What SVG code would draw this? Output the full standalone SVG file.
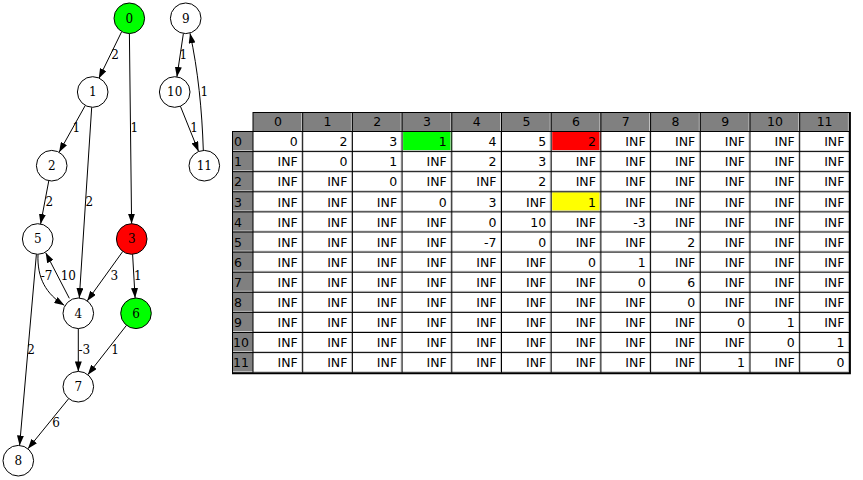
<svg xmlns="http://www.w3.org/2000/svg" width="863" height="480" viewBox="0 0 863 480">
<style>
.nd{stroke:#000;stroke-width:1;fill:#fff}
.nl{font-family:"DejaVu Serif","Liberation Serif",serif;font-size:12px;text-anchor:middle}
.el{font-family:"DejaVu Serif","Liberation Serif",serif;font-size:12px;text-anchor:middle}
.e{stroke:#000;stroke-width:1;fill:none;marker-end:url(#ah)}
.t{font-family:"DejaVu Sans","Liberation Sans",sans-serif;font-size:12.5px;text-anchor:end}
.h{font-family:"DejaVu Sans","Liberation Sans",sans-serif;font-size:12.5px;text-anchor:middle}
.rh{font-family:"DejaVu Sans","Liberation Sans",sans-serif;font-size:12.5px;text-anchor:start}
.gl{stroke:#000;stroke-width:1}
.ll{stroke:#c8c8c8;stroke-width:1}
</style>
<defs>
<marker id="ah" markerUnits="userSpaceOnUse" markerWidth="10" markerHeight="7" refX="10" refY="3.5" orient="auto">
<path d="M0,0 L10,3.5 L0,7 z" fill="#000"/>
</marker>
</defs>
<rect width="863" height="480" fill="#fff"/>
<g id="edges">
<path class="e" d="M121.5,32 L98.8,78.5"/>
<text class="el" x="115" y="58.5">2</text>
<path class="e" d="M129.4,33.6 L131.6,223.7"/>
<text class="el" x="134.3" y="132">1</text>
<path class="e" d="M85.3,105.4 L59.1,152.3"/>
<text class="el" x="76.3" y="132">1</text>
<path class="e" d="M91.7,107.3 L79.3,298"/>
<text class="el" x="89.3" y="206">2</text>
<path class="e" d="M48.8,180.7 L40.6,224"/>
<text class="el" x="49.3" y="206">2</text>
<path class="e" d="M38,254.5 C37,278 46,294 64.3,305.3"/>
<text class="el" x="46.5" y="280">-7</text>
<path class="e" d="M69.3,298.3 L45.7,252.7"/>
<text class="el" x="68.3" y="280">10</text>
<path class="e" d="M122.8,251.4 L87.2,300.9"/>
<text class="el" x="114.3" y="280">3</text>
<path class="e" d="M132.6,254.3 L135.1,298"/>
<text class="el" x="137.7" y="280">1</text>
<path class="e" d="M36.4,254.2 L19.6,445.4"/>
<text class="el" x="31" y="353.5">2</text>
<path class="e" d="M78.3,328.6 L78.3,371.4"/>
<text class="el" x="84.3" y="353.5">-3</text>
<path class="e" d="M126.5,325.3 L87.8,374.7"/>
<text class="el" x="115" y="353.5">1</text>
<path class="e" d="M68.7,398.6 L27.9,448.8"/>
<text class="el" x="56" y="427">6</text>
<path class="e" d="M183.4,33.4 L176.9,76.9"/>
<text class="el" x="183.3" y="58.5">1</text>
<path class="e" d="M180.4,106.2 L198.6,151.5"/>
<text class="el" x="194" y="132">1</text>
<path class="e" d="M203.3,150 C202,110 198,70 190,33.3"/>
<text class="el" x="204.3" y="95.5">1</text>
</g>
<g id="node0"><circle class="nd" cx="129.3" cy="18.3" r="15.3" style="fill:#00ff00"/><text class="nl" x="129.3" y="22.6">0</text></g>
<g id="node9"><circle class="nd" cx="185.7" cy="18.3" r="15.3"/><text class="nl" x="185.7" y="22.6">9</text></g>
<g id="node1"><circle class="nd" cx="92.7" cy="92" r="15.3"/><text class="nl" x="92.7" y="96.3">1</text></g>
<g id="node10"><circle class="nd" cx="174.7" cy="92" r="15.3"/><text class="nl" x="174.7" y="96.3">10</text></g>
<g id="node2"><circle class="nd" cx="51.7" cy="165.7" r="15.3"/><text class="nl" x="51.7" y="170">2</text></g>
<g id="node11"><circle class="nd" cx="204.3" cy="165.7" r="15.3"/><text class="nl" x="204.3" y="170">11</text></g>
<g id="node5"><circle class="nd" cx="37.7" cy="239" r="15.3"/><text class="nl" x="37.7" y="243.3">5</text></g>
<g id="node3"><circle class="nd" cx="131.7" cy="239" r="15.3" style="fill:#ff0000"/><text class="nl" x="131.7" y="243.3">3</text></g>
<g id="node4"><circle class="nd" cx="78.3" cy="313.3" r="15.3"/><text class="nl" x="78.3" y="317.6">4</text></g>
<g id="node6"><circle class="nd" cx="136" cy="313.3" r="15.3" style="fill:#00ff00"/><text class="nl" x="136" y="317.6">6</text></g>
<g id="node7"><circle class="nd" cx="78.3" cy="386.7" r="15.3"/><text class="nl" x="78.3" y="391">7</text></g>
<g id="node8"><circle class="nd" cx="18.3" cy="460.7" r="15.3"/><text class="nl" x="18.3" y="465">8</text></g>
<g id="table">
<rect x="253" y="112" width="596.4" height="19.5" fill="#808080"/>
<rect x="232" y="131.5" width="21" height="241.2" fill="#808080"/>
<rect x="253" y="131.5" width="596.4" height="241.2" fill="#fff"/>
<rect x="403.1" y="132" width="48.7" height="19.1" fill="#00ff00"/>
<rect x="552.2" y="132" width="48.7" height="19.1" fill="#ff0000"/>
<rect x="552.2" y="192.3" width="48.7" height="19.1" fill="#ffff00"/>
<g class="ll">
<path d="M301.7,112 V372.7 M351.4,112 V372.7 M401.1,112 V372.7 M450.8,112 V372.7 M500.5,112 V372.7 M550.2,112 V372.7 M599.9,112 V372.7 M649.6,112 V372.7 M699.3,112 V372.7 M749,112 V372.7 M798.7,112 V372.7 M848.4,112 V372.7"/>
<path d="M232,150.6 H849.4 M232,170.7 H849.4 M232,190.8 H849.4 M232,210.9 H849.4 M232,231 H849.4 M232,251.1 H849.4 M232,271.2 H849.4 M232,291.3 H849.4 M232,311.4 H849.4 M232,331.5 H849.4 M232,351.6 H849.4 M232,371.7 H849.4"/>
</g>
<g class="gl">
<path d="M253,112 V372.7 M302.7,112 V372.7 M352.4,112 V372.7 M402.1,112 V372.7 M451.8,112 V372.7 M501.5,112 V372.7 M551.2,112 V372.7 M600.9,112 V372.7 M650.6,112 V372.7 M700.3,112 V372.7 M750,112 V372.7 M799.7,112 V372.7"/>
<path d="M232,131.5 H849.4 M232,151.6 H849.4 M232,171.7 H849.4 M232,191.8 H849.4 M232,211.9 H849.4 M232,232 H849.4 M232,252.1 H849.4 M232,272.2 H849.4 M232,292.3 H849.4 M232,312.4 H849.4 M232,332.5 H849.4 M232,352.6 H849.4"/>
<path d="M253,112.5 H850 M232.5,131.5 V373"/>
</g>
<path d="M849.9,112 V373.7 M232,373.2 H850.9" stroke="#000" stroke-width="2" fill="none"/>
<g class="h">
<text x="277.9" y="126.4">0</text><text x="327.6" y="126.4">1</text><text x="377.3" y="126.4">2</text><text x="427" y="126.4">3</text><text x="476.7" y="126.4">4</text><text x="526.4" y="126.4">5</text><text x="576.1" y="126.4">6</text><text x="625.8" y="126.4">7</text><text x="675.5" y="126.4">8</text><text x="725.2" y="126.4">9</text><text x="774.9" y="126.4">10</text><text x="824.6" y="126.4">11</text>
</g>
<g class="rh">
<text x="234" y="146.2">0</text><text x="234" y="166.3">1</text><text x="234" y="186.4">2</text><text x="234" y="206.5">3</text><text x="234" y="226.6">4</text><text x="234" y="246.7">5</text><text x="234" y="266.8">6</text><text x="234" y="286.9">7</text><text x="234" y="307">8</text><text x="234" y="327.1">9</text><text x="233" y="347.2">10</text><text x="233" y="367.3">11</text>
</g>
<g class="t">
<g transform="translate(0,146.2)"><text x="297.7">0</text><text x="347.4">2</text><text x="397.1">3</text><text x="446.8">1</text><text x="496.5">4</text><text x="546.2">5</text><text x="595.9">2</text><text x="645.6">INF</text><text x="695.3">INF</text><text x="745">INF</text><text x="794.7">INF</text><text x="844.4">INF</text></g>
<g transform="translate(0,166.3)"><text x="297.7">INF</text><text x="347.4">0</text><text x="397.1">1</text><text x="446.8">INF</text><text x="496.5">2</text><text x="546.2">3</text><text x="595.9">INF</text><text x="645.6">INF</text><text x="695.3">INF</text><text x="745">INF</text><text x="794.7">INF</text><text x="844.4">INF</text></g>
<g transform="translate(0,186.4)"><text x="297.7">INF</text><text x="347.4">INF</text><text x="397.1">0</text><text x="446.8">INF</text><text x="496.5">INF</text><text x="546.2">2</text><text x="595.9">INF</text><text x="645.6">INF</text><text x="695.3">INF</text><text x="745">INF</text><text x="794.7">INF</text><text x="844.4">INF</text></g>
<g transform="translate(0,206.5)"><text x="297.7">INF</text><text x="347.4">INF</text><text x="397.1">INF</text><text x="446.8">0</text><text x="496.5">3</text><text x="546.2">INF</text><text x="595.9">1</text><text x="645.6">INF</text><text x="695.3">INF</text><text x="745">INF</text><text x="794.7">INF</text><text x="844.4">INF</text></g>
<g transform="translate(0,226.6)"><text x="297.7">INF</text><text x="347.4">INF</text><text x="397.1">INF</text><text x="446.8">INF</text><text x="496.5">0</text><text x="546.2">10</text><text x="595.9">INF</text><text x="645.6">-3</text><text x="695.3">INF</text><text x="745">INF</text><text x="794.7">INF</text><text x="844.4">INF</text></g>
<g transform="translate(0,246.7)"><text x="297.7">INF</text><text x="347.4">INF</text><text x="397.1">INF</text><text x="446.8">INF</text><text x="496.5">-7</text><text x="546.2">0</text><text x="595.9">INF</text><text x="645.6">INF</text><text x="695.3">2</text><text x="745">INF</text><text x="794.7">INF</text><text x="844.4">INF</text></g>
<g transform="translate(0,266.8)"><text x="297.7">INF</text><text x="347.4">INF</text><text x="397.1">INF</text><text x="446.8">INF</text><text x="496.5">INF</text><text x="546.2">INF</text><text x="595.9">0</text><text x="645.6">1</text><text x="695.3">INF</text><text x="745">INF</text><text x="794.7">INF</text><text x="844.4">INF</text></g>
<g transform="translate(0,286.9)"><text x="297.7">INF</text><text x="347.4">INF</text><text x="397.1">INF</text><text x="446.8">INF</text><text x="496.5">INF</text><text x="546.2">INF</text><text x="595.9">INF</text><text x="645.6">0</text><text x="695.3">6</text><text x="745">INF</text><text x="794.7">INF</text><text x="844.4">INF</text></g>
<g transform="translate(0,307)"><text x="297.7">INF</text><text x="347.4">INF</text><text x="397.1">INF</text><text x="446.8">INF</text><text x="496.5">INF</text><text x="546.2">INF</text><text x="595.9">INF</text><text x="645.6">INF</text><text x="695.3">0</text><text x="745">INF</text><text x="794.7">INF</text><text x="844.4">INF</text></g>
<g transform="translate(0,327.1)"><text x="297.7">INF</text><text x="347.4">INF</text><text x="397.1">INF</text><text x="446.8">INF</text><text x="496.5">INF</text><text x="546.2">INF</text><text x="595.9">INF</text><text x="645.6">INF</text><text x="695.3">INF</text><text x="745">0</text><text x="794.7">1</text><text x="844.4">INF</text></g>
<g transform="translate(0,347.2)"><text x="297.7">INF</text><text x="347.4">INF</text><text x="397.1">INF</text><text x="446.8">INF</text><text x="496.5">INF</text><text x="546.2">INF</text><text x="595.9">INF</text><text x="645.6">INF</text><text x="695.3">INF</text><text x="745">INF</text><text x="794.7">0</text><text x="844.4">1</text></g>
<g transform="translate(0,367.3)"><text x="297.7">INF</text><text x="347.4">INF</text><text x="397.1">INF</text><text x="446.8">INF</text><text x="496.5">INF</text><text x="546.2">INF</text><text x="595.9">INF</text><text x="645.6">INF</text><text x="695.3">INF</text><text x="745">1</text><text x="794.7">INF</text><text x="844.4">0</text></g>
</g>
</g>
</svg>
